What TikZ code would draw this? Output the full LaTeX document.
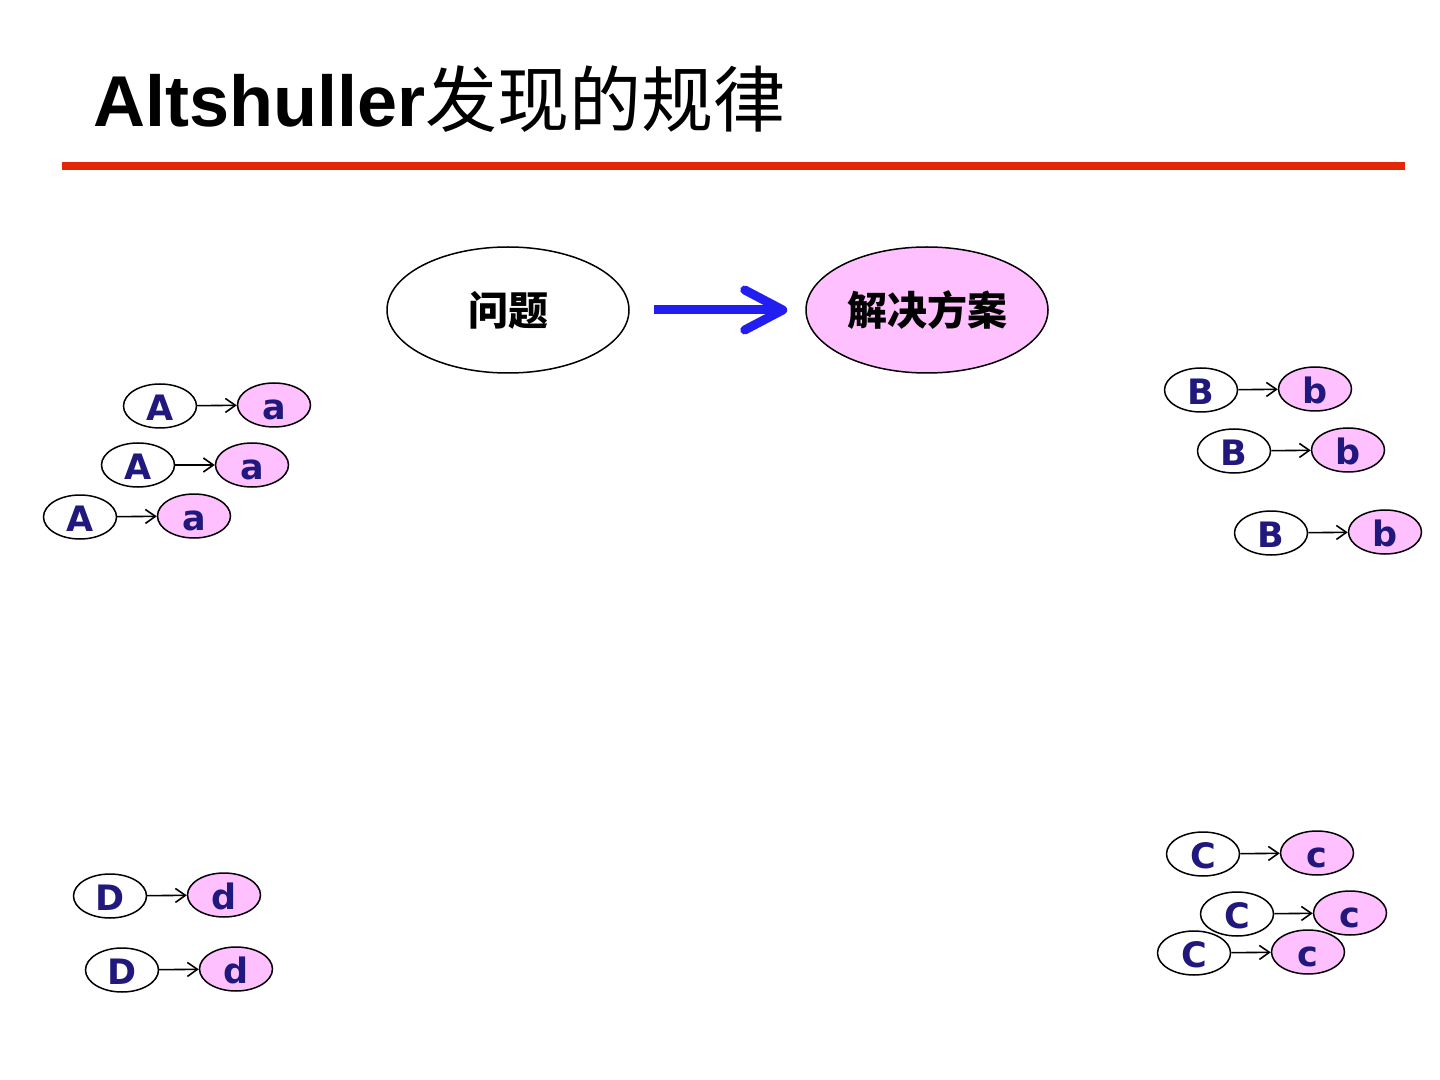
\documentclass[tikz,border=0pt]{standalone}
\usepackage{fontspec}
\usepackage{xcolor}
\usetikzlibrary{shapes.geometric,arrows.meta}
\setmainfont{Liberation Sans}
\newfontfamily\cjk{Noto Sans CJK SC}
\newfontfamily\letterfont{DejaVu Sans}
\definecolor{rulered}{RGB}{226,38,6}
\definecolor{arrowblue}{RGB}{35,30,240}
\definecolor{solpink}{RGB}{255,192,255}
\definecolor{letterblue}{RGB}{32,24,125}
\tikzset{
    % Define standard node styles
    titletext/.style={
        anchor=base west, inner sep=0pt, font=\fontsize{36pt}{40pt}\selectfont
    },
    problembox/.style={
        ellipse, draw=black, line width=0.75pt, fill=white,
        minimum width=121pt, minimum height=63pt, inner sep=0pt,
        font=\cjk\bfseries\fontsize{20pt}{24pt}\selectfont
    },
    solutionbox/.style={
        problembox, fill=solpink
    },
    upperbox/.style={
        ellipse, draw=black, line width=0.75pt, fill=white,
        minimum width=36.5pt, minimum height=22pt, inner sep=0pt,
        text height=14.5pt, text depth=0pt, text=letterblue,
        font=\letterfont\bfseries\fontsize{17.5pt}{20pt}\selectfont
    },
    lowerbox/.style={
        upperbox, fill=solpink
    },
    bigarrow/.style={
        -{Straight Barb[length=19pt,width=20pt,line cap=round,line join=round]},
        line width=4.5pt, color=arrowblue, shorten <=12pt, shorten >=9pt
    },
    smallarrow/.style={
        -{Straight Barb[length=5pt,width=7pt]}, line width=0.8pt, color=black
    },
    titlerule/.style={
        line width=4pt, color=rulered
    }
}
\begin{document}
\begin{tikzpicture}[x=0.5pt,y=-0.5pt]
\useasboundingbox (0,0) rectangle (1440,1080);

% Title
\node[titletext] (title) at (93,127) {{\bfseries Altshuller}{\cjk 发现的规律}};
\draw[titlerule] (62,166) -- (1405,166);

% Problem and solution
\node[problembox] (problem) at (508,310) {问题};
\node[solutionbox] (solution) at (927,310) {解决方案};
\draw[bigarrow] (problem) -- (solution);

% A group
\node[upperbox] (A1) at (160,406) {A};
\node[lowerbox] (a1) at (274,405) {a};
\node[upperbox] (A2) at (138,465) {A};
\node[lowerbox] (a2) at (252,465) {a};
\node[upperbox] (A3) at (80,517) {A};
\node[lowerbox] (a3) at (194,516) {a};

% B group
\node[upperbox] (B1) at (1201,390) {B};
\node[lowerbox] (b1) at (1315,389) {b};
\node[upperbox] (B2) at (1234,451) {B};
\node[lowerbox] (b2) at (1348,450) {b};
\node[upperbox] (B3) at (1271,533) {B};
\node[lowerbox] (b3) at (1385,532) {b};

% C group
\node[upperbox] (C1) at (1203,854) {C};
\node[lowerbox] (c1) at (1317,853) {c};
\node[upperbox] (C2) at (1237,914) {C};
\node[lowerbox] (c2) at (1350,913) {c};
\node[upperbox] (C3) at (1194,953) {C};
\node[lowerbox] (c3) at (1308,952) {c};

% D group
\node[upperbox] (D1) at (110,896) {D};
\node[lowerbox] (d1) at (224,895) {d};
\node[upperbox] (D2) at (122,970) {D};
\node[lowerbox] (d2) at (236,969) {d};

% Arrows between pairs
\draw[smallarrow] (A1) -- (a1);
\draw[smallarrow] (A2) -- (a2);
\draw[smallarrow] (A3) -- (a3);
\draw[smallarrow] (B1) -- (b1);
\draw[smallarrow] (B2) -- (b2);
\draw[smallarrow] (B3) -- (b3);
\draw[smallarrow] (C1) -- (c1);
\draw[smallarrow] (C2) -- (c2);
\draw[smallarrow] (C3) -- (c3);
\draw[smallarrow] (D1) -- (d1);
\draw[smallarrow] (D2) -- (d2);

\end{tikzpicture}
\end{document}
